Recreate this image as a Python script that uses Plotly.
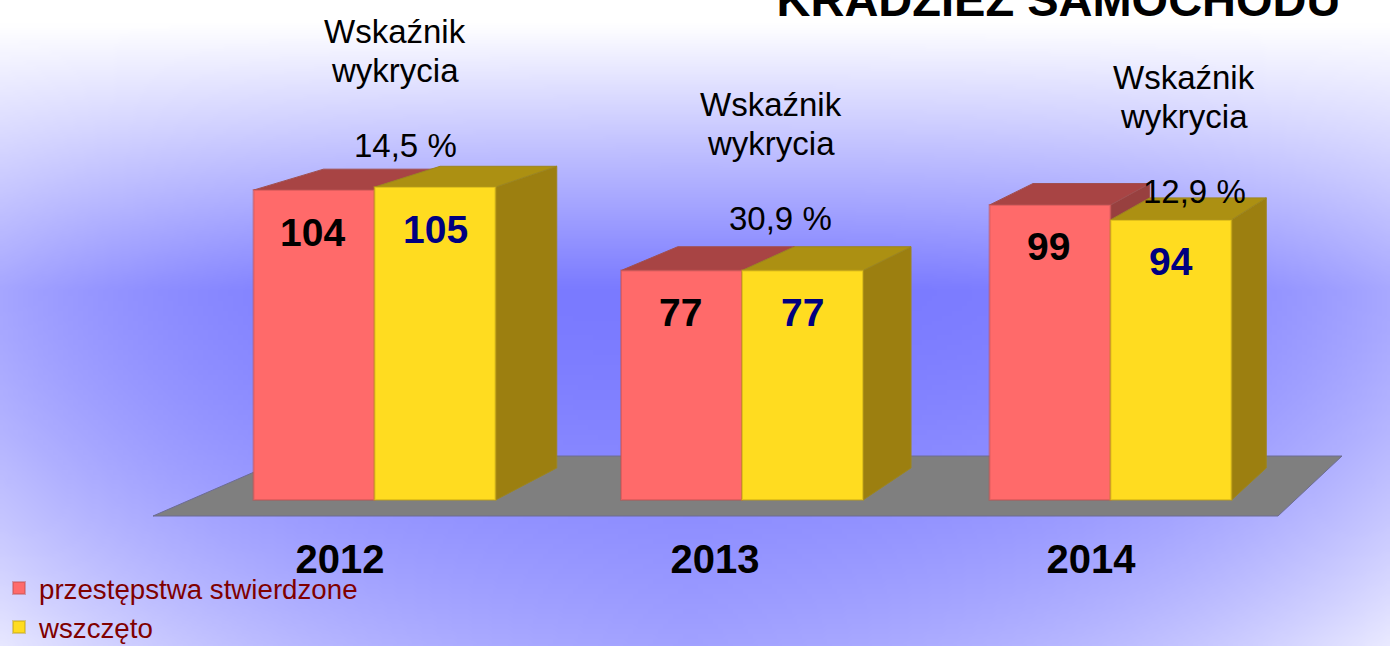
import base64, struct, zlib
import numpy as np
import plotly.graph_objects as go

# ---- data ----
years = ["2012", "2013", "2014"]
stwierdzone = [104, 77, 99]
wszczeto = [105, 77, 94]
wskaznik = ["14,5 %", "30,9 %", "12,9 %"]
series_names = ["przestępstwa stwierdzone", "wszczęto"]
title_text = "KRADZIEŻ SAMOCHODU"
rate_heading = ["Wskaźnik", "wykrycia"]

# ---- layout constants (pixels of the 1390x646 page) ----
W, H = 1390, 646
BASE_PX, PX_PER_UNIT = 500, 2.98
def v(px):
    return (BASE_PX - px) / PX_PER_UNIT

centres = [374.5, 742.0, 1110.5]
label_x = [340, 715, 1091]
bar_w = 121
red_x = [c - bar_w / 2 for c in centres]
yel_x = [c + bar_w / 2 for c in centres]

# 3-D depth: each front corner recedes towards a vanishing point
S, VX, VY = 0.036, 2197, -391
def back(x, y_px):
    return x + S * (VX - x), y_px + S * (VY - y_px)

def poly(points, fill, line):
    path = "M" + " L".join(f"{x:.2f},{v(y):.3f}" for x, y in points) + " Z"
    return dict(type="path", path=path, xref="x", yref="y", layer="below",
                fillcolor=fill, line=dict(color=line, width=1))

def box_faces(x_c, value, top_fill, side_fill, edge):
    x0, x1 = x_c - bar_w / 2, x_c + bar_w / 2
    yt = BASE_PX - value * PX_PER_UNIT
    top = [(x0, yt), (x1, yt), back(x1, yt), back(x0, yt)]
    side = [(x1, yt), (x1, BASE_PX), back(x1, BASE_PX), back(x1, yt)]
    return [poly(side, side_fill, edge), poly(top, top_fill, edge)]

def make_background():
    w, h = 278, 130
    xs = (np.arange(w) + .5) / w * W
    ys = (np.arange(h) + .5) / h * H
    X, Y = np.meshgrid(xs, ys)
    a = np.abs(X - 690) / 700
    edge = 0.35 * a ** 3
    b_low = np.clip(Y - 290, 0, None) / 356
    t_low = edge + 0.3 * b_low ** 1.5 + 0.2 * a * b_low ** 2
    t_up = (290 - Y) / 265 + edge * np.clip(1 - (290 - Y) / 265, 0, 1)
    t = np.clip(np.where(Y < 290, t_up, t_low), 0, 1)
    c0, c1 = np.array([122, 122, 255.]), np.array([255, 255, 255.])
    img = (c0 + (c1 - c0) * t[..., None]).astype(np.uint8)
    raw = b"".join(b"\0" + row.tobytes() for row in img)
    def chunk(tag, d):
        return struct.pack(">I", len(d)) + tag + d + struct.pack(">I", zlib.crc32(tag + d))
    png = b"\x89PNG\r\n\x1a\n" + chunk(b"IHDR", struct.pack(">IIBBBBB", w, h, 8, 2, 0, 0, 0)) \
        + chunk(b"IDAT", zlib.compress(raw)) + chunk(b"IEND", b"")
    return "data:image/png;base64," + base64.b64encode(png).decode()

FONT = "Liberation Sans"
fig = go.Figure()
fig.add_bar(x=red_x, y=stwierdzone, width=bar_w, name=series_names[0], legendgroup="a",
            marker=dict(color="#FF6A6A", line=dict(color="rgba(190,80,80,0.45)", width=2)))
fig.add_bar(x=yel_x, y=wszczeto, width=bar_w, name=series_names[1], legendgroup="b",
            marker=dict(color="#FFDC20", line=dict(color="rgba(190,160,20,0.45)", width=2)))

shapes = [poly([(153, 516), (1278, 516), (1342, 456), (291, 456)], "#7F7F7F", "#6C6C94")]
for i in range(3):
    shapes += box_faces(red_x[i], stwierdzone[i], "#A84444", "#98403F", "#A05050")
for i in range(3):
    shapes += box_faces(yel_x[i], wszczeto[i], "#AC9012", "#9C7F10", "#9C8520")

ann = []
for x, val in zip(red_x, stwierdzone):
    ann.append(dict(x=x, y=val, xshift=-1.5, yshift=-42, text=f"<b>{val}</b>", showarrow=False,
                    font=dict(family=FONT, size=39, color="#000000")))
for x, val in zip(yel_x, wszczeto):
    ann.append(dict(x=x, y=val, yshift=-42, text=f"<b>{val}</b>", showarrow=False,
                    font=dict(family=FONT, size=39, color="#000080")))
head_pos = [(395, 31), (771, 104), (1184, 77)]
rate_pos = [(405, 145), (780, 218), (1194, 191)]
for (hx, hy), (rx, ry), rate in zip(head_pos, rate_pos, wskaznik):
    for k, line in enumerate(rate_heading):
        ann.append(dict(x=hx, y=v(hy + 39 * k), text=line, showarrow=False,
                        font=dict(family=FONT, size=33, color="#000000")))
    ann.append(dict(x=rx, y=v(ry), text=rate, showarrow=False,
                    font=dict(family=FONT, size=33, color="#000000")))

fig.update_layout(
    width=W, height=H, autosize=False, barmode="overlay",
    margin=dict(l=0, r=0, t=0, b=0, autoexpand=False),
    paper_bgcolor="rgba(0,0,0,0)", plot_bgcolor="rgba(0,0,0,0)",
    title=dict(text=f"<b>{title_text}</b>", x=1058.5 / W, xanchor="center", xref="paper",
               y=1, yanchor="middle", yref="container",
               font=dict(family=FONT, size=47, color="#000000")),
    xaxis=dict(range=[0, W], tickmode="array", tickvals=label_x, ticktext=[f"<b>{y}</b>" for y in years],
               tickfont=dict(family=FONT, size=40, color="#000000"), showgrid=False, zeroline=False,
               showline=False, ticks="", anchor="free", position=(H - 532) / H, fixedrange=True),
    yaxis=dict(range=[v(H), v(0)], visible=False, fixedrange=True),
    legend=dict(x=-1 / W, xanchor="left", y=(H - 563.5) / H, yanchor="top", orientation="v",
                bgcolor="rgba(0,0,0,0)", tracegroupgap=2,
                traceorder="normal",
                font=dict(family=FONT, size=27.7, color="#800000")),
    shapes=shapes, annotations=ann,
    images=[dict(source=make_background(), xref="paper", yref="paper", x=0, y=1, sizex=1, sizey=1,
                 sizing="stretch", layer="below", xanchor="left", yanchor="top")],
    showlegend=True,
)
fig.write_html("out.html", config={"displayModeBar": False},
               post_script="document.body.style.margin='0';document.documentElement.style.overflow='hidden';")
